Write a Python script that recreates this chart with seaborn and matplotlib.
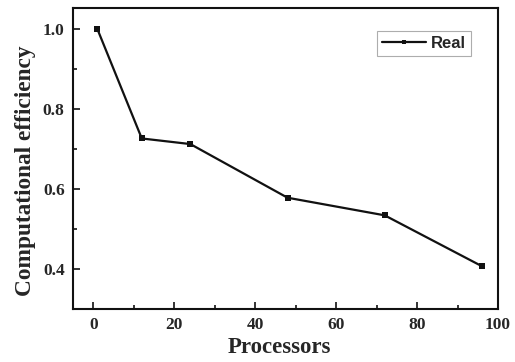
import matplotlib
matplotlib.use("Agg")
import matplotlib.pyplot as plt
from matplotlib.ticker import MultipleLocator
import seaborn as sns
import pandas as pd

processors = [1, 12, 24, 48, 72, 96]
efficiency = [1.0, 0.726, 0.712, 0.578, 0.534, 0.407]
series_label = "Real"

sns.set_theme(style="white")
plt.rcParams["font.family"] = ["Liberation Serif", "DejaVu Serif"]
plt.rcParams["font.weight"] = "bold"

df = pd.DataFrame({"Processors": processors, "Efficiency": efficiency, "Series": series_label})

fig = plt.figure(figsize=(5.15, 3.62), dpi=100)
ax = fig.add_axes([0.1417, 0.1464, 0.8253, 0.8316])

sns.lineplot(data=df, x="Processors", y="Efficiency", hue="Series", palette=["#111111"],
             marker="s", markersize=5, markeredgewidth=0, linewidth=1.6, ax=ax)

ax.set_xlim(-5, 100)
ax.set_ylim(0.3, 1.052)
ax.xaxis.set_major_locator(MultipleLocator(20))
ax.xaxis.set_minor_locator(MultipleLocator(10))
ax.yaxis.set_major_locator(MultipleLocator(0.2))
ax.yaxis.set_minor_locator(MultipleLocator(0.1))
ax.tick_params(which="both", direction="in", bottom=True, left=True, top=False, right=False,
               color="#111111", width=1.2)
ax.tick_params(which="major", length=5, labelsize=12.5, pad=6)
ax.tick_params(which="minor", length=3)
for lbl in ax.get_xticklabels() + ax.get_yticklabels():
    lbl.set_fontweight("bold")

for sp in ax.spines.values():
    sp.set_color("#111111")
    sp.set_linewidth(1.5)

ax.set_xlabel("Processors", fontsize=16.5, fontweight="bold")
ax.set_ylabel("Computational efficiency", fontsize=16.8, fontweight="bold")
ax.xaxis.set_label_coords(0.485, -0.093)
ax.yaxis.set_label_coords(-0.088, 0.46)

leg = ax.legend(loc="upper right", bbox_to_anchor=(0.936, 0.924), borderaxespad=0,
                frameon=True, fancybox=False, handlelength=2.6, handletextpad=0.3,
                borderpad=0.3, markerscale=0.7,
                prop={"family": "Liberation Sans", "weight": "bold", "size": 12})
leg.get_frame().set_edgecolor("#999999")
leg.get_frame().set_linewidth(0.8)

fig.savefig("out.png", dpi=100)
